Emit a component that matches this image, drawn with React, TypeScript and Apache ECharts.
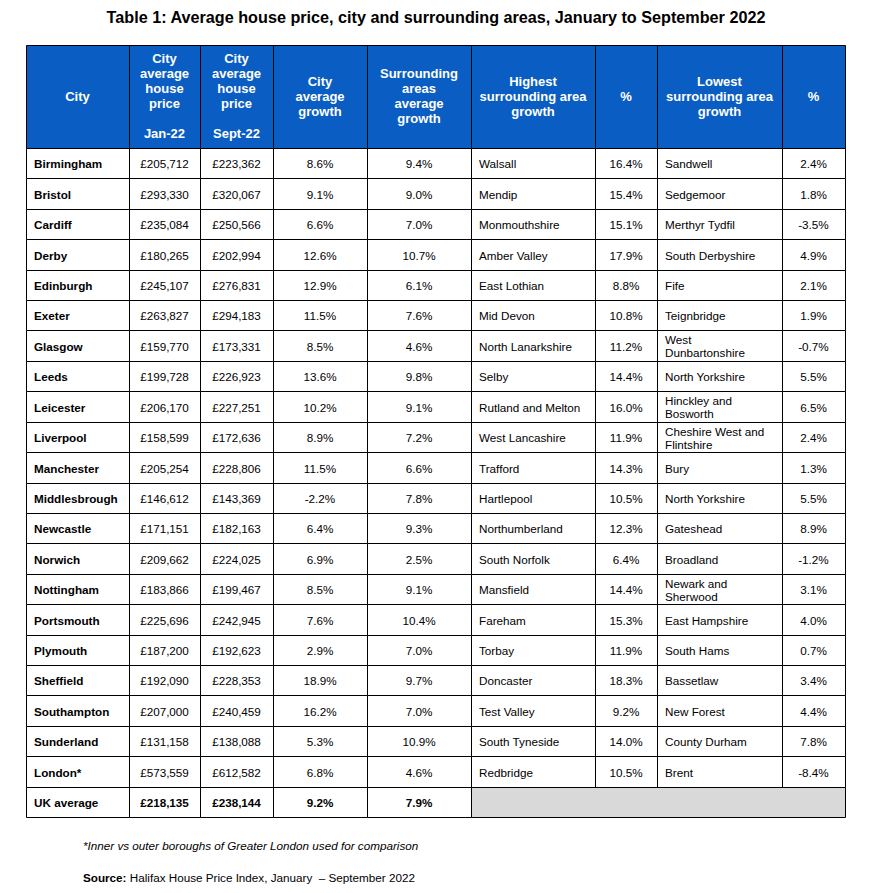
import React, { useEffect, useRef } from "react";
import * as echarts from "echarts";

const cities = ["Birmingham", "Bristol", "Cardiff", "Derby", "Edinburgh", "Exeter", "Glasgow", "Leeds", "Leicester", "Liverpool", "Manchester", "Middlesbrough", "Newcastle", "Norwich", "Nottingham", "Portsmouth", "Plymouth", "Sheffield", "Southampton", "Sunderland", "London*", "UK average"];
const priceJan22 = [205712, 293330, 235084, 180265, 245107, 263827, 159770, 199728, 206170, 158599, 205254, 146612, 171151, 209662, 183866, 225696, 187200, 192090, 207000, 131158, 573559, 218135];
const priceSept22 = [223362, 320067, 250566, 202994, 276831, 294183, 173331, 226923, 227251, 172636, 228806, 143369, 182163, 224025, 199467, 242945, 192623, 228353, 240459, 138088, 612582, 238144];
const cityGrowth = [8.6, 9.1, 6.6, 12.6, 12.9, 11.5, 8.5, 13.6, 10.2, 8.9, 11.5, -2.2, 6.4, 6.9, 8.5, 7.6, 2.9, 18.9, 16.2, 5.3, 6.8, 9.2];
const surroundGrowth = [9.4, 9.0, 7.0, 10.7, 6.1, 7.6, 4.6, 9.8, 9.1, 7.2, 6.6, 7.8, 9.3, 2.5, 9.1, 10.4, 7.0, 9.7, 7.0, 10.9, 4.6, 7.9];
const highestArea = ["Walsall", "Mendip", "Monmouthshire", "Amber Valley", "East Lothian", "Mid Devon", "North Lanarkshire", "Selby", "Rutland and Melton", "West Lancashire", "Trafford", "Hartlepool", "Northumberland", "South Norfolk", "Mansfield", "Fareham", "Torbay", "Doncaster", "Test Valley", "South Tyneside", "Redbridge"];
const highestPct = [16.4, 15.4, 15.1, 17.9, 8.8, 10.8, 11.2, 14.4, 16.0, 11.9, 14.3, 10.5, 12.3, 6.4, 14.4, 15.3, 11.9, 18.3, 9.2, 14.0, 10.5];
const lowestArea = ["Sandwell", "Sedgemoor", "Merthyr Tydfil", "South Derbyshire", "Fife", "Teignbridge", "West\nDunbartonshire", "North Yorkshire", "Hinckley and\nBosworth", "Cheshire West and\nFlintshire", "Bury", "North Yorkshire", "Gateshead", "Broadland", "Newark and\nSherwood", "East Hampshire", "South Hams", "Bassetlaw", "New Forest", "County Durham", "Brent"];
const lowestPct = [2.4, 1.8, -3.5, 4.9, 2.1, 1.9, -0.7, 5.5, 6.5, 2.4, 1.3, 5.5, 8.9, -1.2, 3.1, 4.0, 0.7, 3.4, 4.4, 7.8, -8.4];
const headers = [
  "City",
  "City\naverage\nhouse\nprice\n\nJan-22",
  "City\naverage\nhouse\nprice\n\nSept-22",
  "City\naverage\ngrowth",
  "Surrounding\nareas\naverage\ngrowth",
  "Highest\nsurrounding area\ngrowth",
  "%",
  "Lowest\nsurrounding area\ngrowth",
  "%",
];
const title = "Table 1: Average house price, city and surrounding areas, January to September 2022";
const footnote = "*Inner vs outer boroughs of Greater London used for comparison";
const sourceLabel = "Source:";
const sourceText = " Halifax House Price Index, January  \u2013 September 2022";

// layout
const FONT = "'Liberation Sans', Arial, sans-serif";
const TABLE_LEFT = 26;
const TABLE_WIDTH = 819;
const HEADER_TOP = 45;
const BODY_TOP = 148;
const BODY_HEIGHT = 669;
const COL_X = [0, 103, 174, 247, 341, 445, 569, 631, 756, 819];
const ALIGN = ["left", "center", "center", "center", "center", "left", "center", "left", "center"];
const HEADER_BLUE = "#0A5DC2";

const fmtPrice = (v: number) => "\u00a3" + v.toLocaleString("en-GB");
const fmtPct = (v: number) => v.toFixed(1) + "%";

function rowCells(r: number): string[] {
  const base = [cities[r], fmtPrice(priceJan22[r]), fmtPrice(priceSept22[r]), fmtPct(cityGrowth[r]), fmtPct(surroundGrowth[r])];
  if (r >= highestArea.length) return base;
  return [...base, highestArea[r], fmtPct(highestPct[r]), lowestArea[r], fmtPct(lowestPct[r])];
}

const snap = (v: number) => Math.round(+v.toFixed(3));

export default function App() {
  const ref = useRef<HTMLDivElement>(null);
  useEffect(() => {
    if (!ref.current) return;
    const chart = echarts.init(ref.current, null, { renderer: "svg" });

    const renderItem = (params: any, api: any) => {
      const r = params.dataIndex;
      const c = api.coord([0, r])[1];
      const h = api.size([0, 1])[1];
      const top = snap(c - h / 2);
      const bot = snap(c + h / 2);
      const xs = COL_X.map((v) => Math.round(api.coord([v, r])[0]));
      const cells = rowCells(r);
      const isTotal = r === cities.length - 1;
      const children: any[] = [];
      cells.forEach((txt, i) => {
        children.push({
          type: "rect",
          shape: { x: xs[i] + 0.5, y: top + 0.5, width: xs[i + 1] - xs[i], height: bot - top },
          style: { fill: "#fff", stroke: "#000", lineWidth: 1 },
        });
        const left = ALIGN[i] === "left";
        children.push({
          type: "text",
          style: {
            text: txt,
            x: left ? xs[i] + 8 : (xs[i] + xs[i + 1]) / 2,
            y: (top + bot) / 2 + 0.5,
            align: ALIGN[i],
            verticalAlign: "middle",
            fontFamily: FONT,
            fontSize: 11.7,
            fontWeight: i === 0 || isTotal ? "bold" : "normal",
            lineHeight: 13,
            fill: "#000",
          },
        });
      });
      if (cells.length < 9) {
        children.push({
          type: "rect",
          shape: { x: xs[5] + 0.5, y: top + 0.5, width: xs[9] - xs[5], height: bot - top },
          style: { fill: "#D9D9D9", stroke: "#000", lineWidth: 1 },
        });
      }
      return { type: "group", children };
    };

    const graphics: any[] = [
      {
        type: "text",
        style: { text: title, x: 436, y: 17, align: "center", verticalAlign: "middle", fontFamily: FONT, fontSize: 16.2, fontWeight: "bold", fill: "#000" },
      },
    ];
    headers.forEach((hd, i) => {
      const x0 = TABLE_LEFT + COL_X[i];
      const x1 = TABLE_LEFT + COL_X[i + 1];
      graphics.push({
        type: "rect",
        shape: { x: x0 + 0.5, y: HEADER_TOP + 0.5, width: x1 - x0, height: BODY_TOP - HEADER_TOP },
        style: { fill: HEADER_BLUE, stroke: "#000", lineWidth: 1 },
      });
      graphics.push({
        type: "text",
        style: {
          text: hd,
          x: (x0 + x1) / 2,
          y: 96,
          align: "center",
          verticalAlign: "middle",
          fontFamily: FONT,
          fontSize: 13,
          fontWeight: "bold",
          lineHeight: 15,
          fill: "#fff",
        },
      });
    });
    graphics.push({
      type: "text",
      style: { text: footnote, x: 83, y: 845, align: "left", verticalAlign: "middle", fontFamily: FONT, fontSize: 11.7, fontStyle: "italic", fill: "#000" },
    });
    graphics.push({
      type: "text",
      style: {
        text: "{b|" + sourceLabel + "}" + sourceText,
        x: 83,
        y: 877,
        align: "left",
        verticalAlign: "middle",
        fontFamily: FONT,
        fontSize: 11.7,
        fill: "#000",
        rich: { b: { fontWeight: "bold", fontFamily: FONT, fontSize: 11.7, fill: "#000" } },
      },
    });

    chart.setOption({
      animation: false,
      backgroundColor: "#fff",
      grid: { left: TABLE_LEFT, top: BODY_TOP, width: TABLE_WIDTH, height: BODY_HEIGHT },
      xAxis: { type: "value", min: 0, max: TABLE_WIDTH, show: false },
      yAxis: { type: "category", data: cities, inverse: true, show: false },
      series: [
        {
          type: "custom",
          renderItem,
          data: cities.map((_, i) => [0, i]),
          silent: true,
        },
      ],
      graphic: graphics,
    });
    return () => chart.dispose();
  }, []);
  return <div ref={ref} style={{ position: "absolute", left: 0, top: 0, width: 869, height: 893 }} />;
}
